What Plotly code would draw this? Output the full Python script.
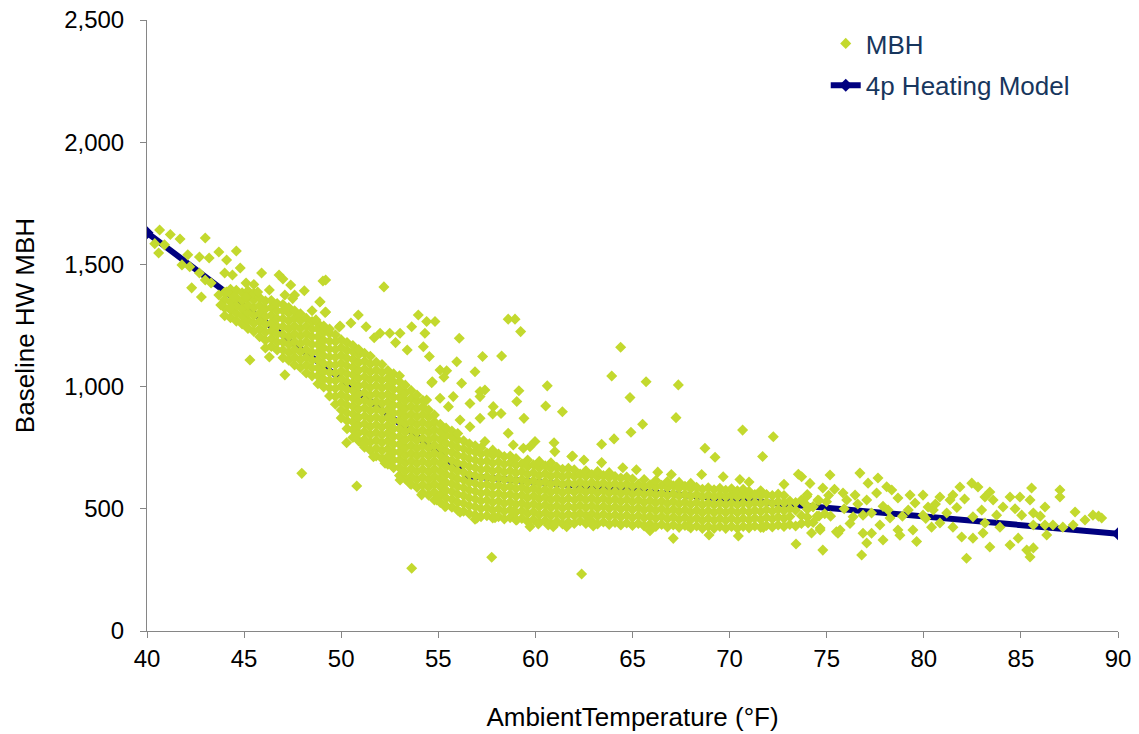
import plotly.graph_objects as go

# 4p heating model (two linear pieces meeting at the balance point)
model_temp = [40.0, 56.6, 90.0]
model_mbh = [1630, 634, 398]

# dense core of the cloud, one column per temperature
band_cols = [
    (44.0, [1290, 1322, 1354, 1386]),
    (44.3, [1282, 1314, 1346, 1378, 1398]),
    (44.6, [1268, 1300, 1332, 1364, 1394]),
    (44.9, [1256, 1288, 1320, 1352, 1384]),
    (45.2, [1238, 1270, 1302, 1334, 1366, 1392]),
    (45.5, [1226, 1258, 1290, 1322, 1354, 1382]),
    (45.8, [1204, 1236, 1268, 1300, 1332, 1364]),
    (46.1, [1190, 1222, 1254, 1286, 1318, 1350]),
    (46.4, [1164, 1196, 1228, 1260, 1292, 1324, 1352]),
    (46.7, [1150, 1182, 1214, 1246, 1278, 1310, 1340]),
    (47.0, [1118, 1150, 1182, 1214, 1246, 1278, 1310, 1336]),
    (47.3, [1108, 1140, 1172, 1204, 1236, 1268, 1300, 1324]),
    (47.6, [1088, 1120, 1152, 1184, 1216, 1248, 1280, 1310]),
    (47.9, [1078, 1110, 1142, 1174, 1206, 1238, 1270, 1298]),
    (48.2, [1056, 1088, 1120, 1152, 1184, 1216, 1248, 1280]),
    (48.5, [1044, 1076, 1108, 1140, 1172, 1204, 1236, 1266]),
    (48.8, [1012, 1044, 1076, 1108, 1140, 1172, 1204, 1236, 1258]),
    (49.1, [998, 1030, 1062, 1094, 1126, 1158, 1190, 1222, 1248]),
    (49.4, [962, 994, 1026, 1058, 1090, 1122, 1154, 1186, 1218, 1236]),
    (49.7, [928, 960, 992, 1024, 1056, 1088, 1120, 1152, 1184, 1212]),
    (50.0, [872, 904, 936, 968, 1000, 1032, 1064, 1096, 1128, 1160, 1192]),
    (50.3, [828, 860, 892, 924, 956, 988, 1020, 1052, 1084, 1116, 1148, 1180]),
    (50.6, [792, 824, 856, 888, 920, 952, 984, 1016, 1048, 1080, 1112, 1144, 1168]),
    (50.9, [778, 810, 842, 874, 906, 938, 970, 1002, 1034, 1066, 1098, 1130, 1152]),
    (51.2, [752, 784, 816, 848, 880, 912, 944, 976, 1008, 1040, 1072, 1104, 1136]),
    (51.5, [740, 772, 804, 836, 868, 900, 932, 964, 996, 1028, 1060, 1092, 1124]),
    (51.8, [716, 748, 780, 812, 844, 876, 908, 940, 972, 1004, 1036, 1068, 1100]),
    (52.1, [706, 738, 770, 802, 834, 866, 898, 930, 962, 994, 1026, 1058, 1090]),
    (52.4, [682, 714, 746, 778, 810, 842, 874, 906, 938, 970, 1002, 1034, 1066]),
    (52.7, [668, 700, 732, 764, 796, 828, 860, 892, 924, 956, 988, 1020, 1052]),
    (53.0, [636, 668, 700, 732, 764, 796, 828, 860, 892, 924, 956, 988, 1020, 1044]),
    (53.3, [622, 654, 686, 718, 750, 782, 814, 846, 878, 910, 942, 974, 1006]),
    (53.6, [600, 632, 664, 696, 728, 760, 792, 824, 856, 888, 920, 952, 984]),
    (53.9, [588, 620, 652, 684, 716, 748, 780, 812, 844, 876, 908, 940, 966]),
    (54.2, [566, 598, 630, 662, 694, 726, 758, 790, 822, 854, 886, 918, 944]),
    (54.5, [556, 588, 620, 652, 684, 716, 748, 780, 812, 844, 876, 904]),
    (54.8, [536, 568, 600, 632, 664, 696, 728, 760, 792, 824, 856, 884]),
    (55.1, [526, 558, 590, 622, 654, 686, 718, 750, 782, 814, 846]),
    (55.4, [512, 544, 576, 608, 640, 672, 704, 736, 768, 800, 830]),
    (55.7, [506, 538, 570, 602, 634, 666, 698, 730, 762, 794, 818]),
    (56.0, [494, 526, 558, 590, 622, 654, 686, 718, 750, 782, 808]),
    (56.3, [490, 522, 554, 586, 618, 650, 682, 714, 746, 778]),
    (56.6, [480, 512, 544, 576, 608, 640, 672, 704, 736, 766]),
    (56.9, [476, 508, 540, 572, 604, 636, 668, 700, 732, 758]),
    (57.2, [468, 500, 532, 564, 596, 628, 660, 692, 724, 750]),
    (57.5, [472, 504, 536, 568, 600, 632, 664, 696, 728]),
    (57.8, [462, 494, 526, 558, 590, 622, 654, 686, 718, 740]),
    (58.1, [468, 500, 532, 564, 596, 628, 660, 692, 724]),
    (58.4, [458, 490, 522, 554, 586, 618, 650, 682, 714]),
    (58.7, [464, 496, 528, 560, 592, 624, 656, 688, 716]),
    (59.0, [454, 486, 518, 550, 582, 614, 646, 678, 706]),
    (59.3, [460, 492, 524, 556, 588, 620, 652, 684]),
    (59.6, [448, 480, 512, 544, 576, 608, 640, 672, 700]),
    (59.9, [456, 488, 520, 552, 584, 616, 648, 680]),
    (60.2, [444, 476, 508, 540, 572, 604, 636, 668, 694]),
    (60.5, [452, 484, 516, 548, 580, 612, 644, 676]),
    (60.8, [440, 472, 504, 536, 568, 600, 632, 664, 688]),
    (61.1, [448, 480, 512, 544, 576, 608, 640, 670]),
    (61.4, [438, 470, 502, 534, 566, 598, 630, 662]),
    (61.7, [446, 478, 510, 542, 574, 606, 638, 666]),
    (62.0, [440, 472, 504, 536, 568, 600, 632, 660]),
    (62.3, [450, 482, 514, 546, 578, 610, 642]),
    (62.6, [440, 472, 504, 536, 568, 600, 632, 656]),
    (62.9, [448, 480, 512, 544, 576, 608, 640]),
    (63.2, [438, 470, 502, 534, 566, 598, 630, 652]),
    (63.5, [446, 478, 510, 542, 574, 606, 636]),
    (63.8, [436, 468, 500, 532, 564, 596, 628, 648]),
    (64.1, [444, 476, 508, 540, 572, 604, 632]),
    (64.4, [434, 466, 498, 530, 562, 594, 626]),
    (64.7, [442, 474, 506, 538, 570, 602, 630]),
    (65.0, [432, 464, 496, 528, 560, 592, 622]),
    (65.3, [440, 472, 504, 536, 568, 600]),
    (65.6, [430, 462, 494, 526, 558, 590, 620]),
    (65.9, [438, 470, 502, 534, 566, 598]),
    (66.2, [428, 460, 492, 524, 556, 588, 616]),
    (66.5, [436, 468, 500, 532, 564, 596]),
    (66.8, [426, 458, 490, 522, 554, 586, 612]),
    (67.1, [434, 466, 498, 530, 562, 594]),
    (67.4, [424, 456, 488, 520, 552, 584, 608]),
    (67.7, [432, 464, 496, 528, 560, 592]),
    (68.0, [422, 454, 486, 518, 550, 582, 604]),
    (68.3, [430, 462, 494, 526, 558, 588]),
    (68.6, [420, 452, 484, 516, 548, 580]),
    (68.9, [428, 460, 492, 524, 556, 586]),
    (69.2, [420, 452, 484, 516, 548, 578]),
    (69.5, [428, 460, 492, 524, 556, 584]),
    (69.8, [420, 452, 484, 516, 548, 576]),
    (70.1, [428, 460, 492, 524, 556, 582]),
    (70.4, [420, 452, 484, 516, 548, 574]),
    (70.7, [428, 460, 492, 524, 556, 580]),
    (71.0, [422, 454, 486, 518, 550, 572]),
    (71.3, [430, 462, 494, 526, 558]),
    (71.6, [424, 456, 488, 520, 552, 574]),
    (71.9, [432, 464, 496, 528, 558]),
    (72.2, [426, 458, 490, 522, 554]),
    (72.5, [434, 466, 498, 530, 560]),
    (72.8, [428, 460, 492, 524, 554]),
    (73.1, [436, 468, 500, 532]),
    (73.4, [430, 494, 526]),
    (73.7, [440, 472, 536]),
    (74.0, [466, 498, 558]),
    (74.3, [444, 508]),
    (74.6, [470, 534]),
    (74.9, [480]),
]

# sparse points around the core: cold end, upper scatter, low outliers, warm end
cold_pts = [
    (40.65, 1641), (40.6, 1547), (40.9, 1580), (41.7, 1604), (43.0, 1608),
    (42.1, 1539), (41.8, 1498), (42.7, 1530), (43.2, 1526), (43.7, 1551),
    (44.6, 1555), (44.1, 1518), (42.2, 1490), (42.7, 1465), (43.0, 1436),
    (42.3, 1404), (42.8, 1367), (43.3, 1424), (44.0, 1465), (44.4, 1457),
    (44.8, 1485), (45.9, 1465), (46.8, 1457), (47.4, 1416), (45.1, 1424),
    (46.3, 1395), (49.2, 1436), (43.7, 1375), (44.1, 1387), (44.5, 1367),
    (43.8, 1334), (44.3, 1326), (45.1, 1367), (45.7, 1387), (47.1, 1375),
    (47.6, 1375), (48.9, 1346), (49.2, 1305), (49.9, 1244), (48.7, 1273),
    (45.3, 1109), (46.1, 1158), (47.1, 1048), (46.3, 1121), (41.2, 1622),
    (40.4, 1585), (47.0, 1440), (48.1, 1392), (45.5, 1418),
]

upper_pts = [
    (48.91, 1347), (49.17, 1303), (50.88, 1293), (53.97, 1293), (54.4, 1266),
    (54.83, 1266), (49.94, 1248), (51.28, 1245), (52.0, 1218), (52.5, 1218),
    (53.03, 1218), (53.63, 1245), (54.31, 1218), (56.08, 1198), (58.6, 1276),
    (58.95, 1276), (59.24, 1225), (57.28, 1123), (58.26, 1125), (60.61, 1003),
    (60.53, 921), (61.39, 897), (59.15, 983), (59.04, 939), (56.89, 1061),
    (55.95, 1102), (55.43, 1065), (54.69, 1020), (56.2, 1014), (57.15, 980),
    (57.83, 918), (54.54, 1123), (54.23, 1163), (55.09, 1068), (55.29, 1038),
    (54.66, 1016), (57.4, 986), (57.15, 959), (59.41, 870), (58.23, 890),
    (56.63, 931), (55.77, 959), (54.4, 945), (55.09, 952), (55.52, 918),
    (56.12, 863), (56.63, 836), (57.15, 870), (57.8, 888), (57.4, 775),
    (58.6, 809), (58.86, 761), (59.38, 748), (59.72, 754), (59.98, 775),
    (60.96, 770), (61.0, 734), (61.87, 714), (63.41, 764), (64.05, 786),
    (64.39, 1161), (63.93, 1043), (65.7, 1020), (67.36, 1007), (64.87, 955),
    (67.24, 873), (65.52, 846), (64.92, 813), (70.67, 822), (72.25, 795),
    (68.73, 748), (69.25, 711), (71.7, 714), (62.5, 700), (63.41, 689),
    (64.5, 668), (68.56, 640), (69.67, 631), (70.53, 620), (73.54, 641),
    (52.2, 1408), (49.06, 1432), (52.8, 1180), (53.4, 1150), (51.7, 1200),
    (50.5, 1260), (48.5, 1310), (47.5, 1360), (61.92, 716), (66.3, 650),
    (67.0, 640), (71.0, 610), (72.8, 600), (65.2, 660),
]

lower_pts = [
    (47.97, 645), (50.8, 593), (53.63, 257), (57.75, 302), (62.38, 233),
    (50.28, 770), (51.14, 761), (51.66, 713), (52.26, 686), (53.03, 618),
    (53.54, 604), (54.14, 557), (54.92, 536), (55.35, 509), (56.12, 486),
    (56.98, 461), (57.92, 463), (59.04, 454), (59.72, 427), (60.92, 427),
    (61.61, 427), (62.81, 454), (56.89, 457), (58.86, 488), (60.15, 438),
    (60.66, 434), (61.0, 438), (62.98, 430), (65.9, 410), (67.1, 379),
    (68.94, 393), (70.45, 389), (73.42, 356), (74.8, 331), (74.22, 401),
    (74.66, 413), (75.5, 406), (71.74, 424), (71.02, 427), (67.87, 430),
]

warm_pts = [
    (73.71, 631), (74.14, 604), (75.17, 638), (74.8, 585), (73.97, 550),
    (74.55, 536), (74.99, 529), (74.3, 509), (74.04, 442), (74.66, 421),
    (75.69, 413), (75.58, 400), (75.84, 565), (76.03, 536), (76.46, 556),
    (76.71, 646), (77.13, 605), (77.64, 626), (77.06, 536), (77.57, 565),
    (78.09, 590), (78.35, 577), (78.67, 544), (78.16, 495), (76.87, 474),
    (76.36, 467), (77.31, 483), (77.74, 434), (76.87, 400), (77.31, 400),
    (77.06, 360), (77.9, 372), (76.8, 311), (78.26, 462), (78.67, 413),
    (78.77, 392), (79.29, 556), (79.2, 495), (79.55, 524), (79.96, 556),
    (79.96, 474), (79.44, 413), (79.63, 366), (80.22, 507), (80.49, 495),
    (80.83, 548), (80.4, 425), (80.83, 442), (81.18, 483), (81.35, 536),
    (81.5, 556), (81.86, 589), (82.47, 605), (82.79, 589), (81.5, 425),
    (81.95, 385), (82.2, 298), (82.53, 467), (82.53, 380), (82.98, 495),
    (83.15, 548), (83.4, 569), (83.15, 442), (83.4, 344), (83.05, 401),
    (83.57, 536), (83.75, 474), (83.92, 425), (84.08, 507), (84.44, 548),
    (84.44, 352), (84.86, 380), (84.95, 548), (85.04, 474), (85.47, 536),
    (85.55, 585), (85.3, 331), (85.64, 340), (85.47, 303), (85.64, 483),
    (86.24, 507), (86.33, 393), (87.01, 577), (87.01, 548), (87.79, 487),
    (87.69, 434), (88.71, 474), (89.16, 462), (86.65, 434), (87.16, 425),
    (86.24, 434), (85.64, 434), (75.2, 470), (75.9, 500), (76.2, 440),
    (75.4, 580), (76.6, 520), (77.9, 510), (78.9, 470), (80.1, 460),
    (80.6, 520), (81.7, 505), (82.1, 540), (84.7, 500), (86.0, 470),
    (88.3, 454), (89.0, 470), (73.9, 520), (74.5, 470), (75.1, 555),
]

temps, mbh = [], []
for t, vals in band_cols:
    temps += [t] * len(vals)
    mbh += vals
for pts in (cold_pts, upper_pts, lower_pts, warm_pts):
    temps += [p[0] for p in pts]
    mbh += [p[1] for p in pts]

fig = go.Figure()

# model line first so the cloud sits on top of it
fig.add_trace(go.Scatter(
    x=model_temp, y=model_mbh,
    mode="lines+markers",
    name="4p Heating Model",
    line=dict(color="#000080", width=6),
    marker=dict(symbol="diamond", size=10, color="#000080"),
    legendrank=2, legendgroup="model",
))

fig.add_trace(go.Scatter(
    x=temps, y=mbh,
    mode="markers",
    name="MBH",
    marker=dict(symbol="diamond", size=8.5, color="rgb(195,217,46)"),
    legendrank=1, legendgroup="mbh",
))

font_family = "Liberation Sans, Arial, sans-serif"
axis_font = dict(family=font_family, size=24, color="black")
title_font = dict(family=font_family, size=26, color="black")

fig.update_layout(
    width=1139,
    height=734,
    margin=dict(l=147, r=21, t=20, b=103, autoexpand=False),
    plot_bgcolor="white",
    paper_bgcolor="white",
    font=axis_font,
    showlegend=True,
    legend=dict(
        x=0.699, y=1.0, xanchor="left", yanchor="top",
        traceorder="grouped", tracegroupgap=5,
        bgcolor="rgba(0,0,0,0)",
        font=dict(family=font_family, size=26, color="#17365D"),
    ),
    xaxis=dict(
        range=[40, 90], dtick=5, tick0=40,
        showgrid=False, zeroline=False, automargin=False,
        showline=True, linecolor="#868686", linewidth=1,
        ticks="outside", ticklen=6, tickcolor="#868686",
        ticklabeloverflow="allow",
        tickfont=axis_font,
        title=dict(text="AmbientTemperature (°F)", font=title_font, standoff=37),
    ),
    yaxis=dict(
        range=[0, 2500], dtick=500, tickformat=",",
        showgrid=False, zeroline=False, automargin=False,
        showline=True, linecolor="#868686", linewidth=1,
        ticks="outside", ticklen=6, tickcolor="#868686",
        ticklabelstandoff=11, ticklabeloverflow="allow",
        tickfont=axis_font,
        title=dict(text="Baseline HW MBH", font=title_font, standoff=22),
    ),
)

# the page body has a default 8px margin; drop it so the figure fills the window
fig.write_html(
    "out.html",
    config={"displayModeBar": False},
    post_script="document.body.style.margin = '0';",
)
